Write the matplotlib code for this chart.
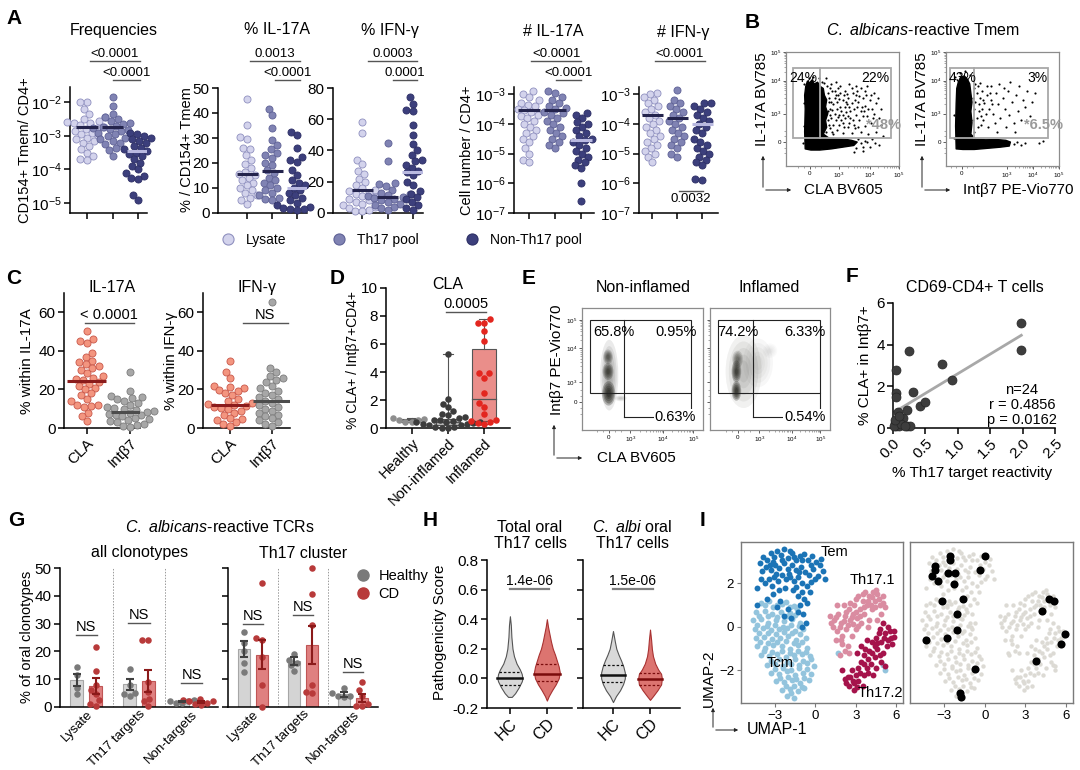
"""Multi-panel figure: C. albicans-reactive T cells (panels A-I)."""

import matplotlib
matplotlib.use("Agg")
import matplotlib.pyplot as plt
import numpy as np
from matplotlib.lines import Line2D
from matplotlib.patches import Polygon, Rectangle, Ellipse, FancyArrowPatch

plt.rcParams["font.family"] = ["Liberation Sans", "DejaVu Sans"]
plt.rcParams["mathtext.fontset"] = "custom"
plt.rcParams["mathtext.rm"] = "Liberation Sans"
plt.rcParams["mathtext.it"] = "Liberation Sans:italic"
plt.rcParams["axes.linewidth"] = 1.1

W, H = 1080, 770

# ---------------- data: panel A (log10 values for log panels) ----------------
freq_lysate = [-2.0, -2.0, -2.2, -2.35, -2.45, -2.5, -2.55, -2.58, -2.6, -2.62, -2.68, -2.72,
               -2.75, -2.8, -2.85, -2.9, -2.95, -3.0, -3.05, -3.1, -3.15, -3.2, -3.3, -3.4,
               -3.5, -3.6, -3.7, -3.72]
freq_th17 = [-1.85, -2.1, -2.35, -2.45, -2.5, -2.55, -2.6, -2.65, -2.7, -2.72, -2.75, -2.8,
             -2.82, -2.85, -2.9, -2.95, -3.0, -3.05, -3.1, -3.15, -3.2, -3.25, -3.35, -3.42, -3.6]
freq_non = [-2.9, -2.95, -3.0, -3.05, -3.1, -3.15, -3.2, -3.3, -3.35, -3.4, -3.45, -3.5, -3.55,
            -3.6, -3.7, -3.8, -3.9, -4.0, -4.1, -4.2, -4.25, -4.3, -4.75, -4.9]
freq_medians = [-2.72, -2.74, -3.45]

il17_lysate = [45.5, 35, 30.5, 29.5, 26, 25.5, 23, 21, 19.5, 18, 16.5, 15.5, 15, 14, 13, 12,
               11, 10, 9, 8, 7, 6, 5, 3.5]
il17_th17 = [41.5, 39, 34, 29, 27, 25.5, 24, 23, 22, 20, 19, 17, 16, 14, 13, 12, 11, 10, 9, 8,
             7, 6, 5.5, 5]
il17_non = [32.5, 31, 26, 22.5, 21, 20.5, 17, 15, 13, 12, 11, 10, 9, 8, 7, 6, 5, 4, 3, 2.5, 2,
            1.5, 1.5, 1]
il17_medians = [15.5, 16.8, 10.0]

ifn_lysate = [58, 51, 34, 31.5, 27, 25, 22, 20, 18, 16, 15, 14, 13, 12, 11, 10, 9, 8, 7, 6, 5,
              4, 3, 2, 1.5, 1]
ifn_th17 = [45, 33, 19, 18.5, 17, 15, 13, 12, 11.5, 11, 10, 9.5, 9, 8, 7, 6, 5, 4, 3, 2]
ifn_non = [74, 70, 66, 65.5, 56, 50, 44, 40, 37, 34, 33, 31, 29, 27, 26, 24, 20, 18, 14, 12,
           10, 9, 7, 5, 3, 2]
ifn_medians = [14.5, 10.0, 26.0]

nil17_lysate = [-2.9, -3.0, -3.1, -3.2, -3.3, -3.35, -3.4, -3.5, -3.55, -3.6, -3.7, -3.75,
                -3.8, -3.9, -4.0, -4.1, -4.2, -4.3, -4.4, -4.5, -4.6, -4.8, -5.0, -5.2, -5.3]
nil17_th17 = [-2.9, -2.95, -3.1, -3.2, -3.3, -3.4, -3.45, -3.5, -3.6, -3.65, -3.7, -3.8, -3.9,
              -4.0, -4.1, -4.2, -4.3, -4.4, -4.5, -4.6, -4.7, -4.8]
nil17_non = [-3.65, -3.7, -3.8, -3.95, -4.0, -4.1, -4.2, -4.3, -4.4, -4.5, -4.55, -4.6, -4.7,
             -4.8, -4.9, -5.0, -5.1, -5.2, -5.3, -5.4, -5.5, -6.0, -6.6]
nil17_medians = [-3.55, -3.55, -4.55]

nifn_lysate = [-2.95, -3.0, -3.1, -3.2, -3.3, -3.4, -3.5, -3.6, -3.7, -3.8, -3.9, -4.0, -4.1,
               -4.2, -4.3, -4.4, -4.5, -4.6, -4.7, -4.8, -4.9, -5.0, -5.1, -5.3]
nifn_th17 = [-2.85, -3.2, -3.3, -3.4, -3.5, -3.6, -3.7, -3.8, -3.9, -4.0, -4.1, -4.2, -4.3,
             -4.4, -4.5, -4.6, -4.7, -4.8, -5.0, -5.1]
nifn_non = [-3.3, -3.3, -3.4, -3.5, -3.6, -3.7, -3.8, -3.9, -4.0, -4.1, -4.2, -4.3, -4.5, -4.6,
            -4.7, -4.8, -4.9, -5.0, -5.1, -5.2, -5.3, -5.4, -5.85, -5.9]
nifn_medians = [-3.7, -3.8, -4.0]

a_groups = ["Lysate", "Th17 pool", "Non-Th17 pool"]

# ---------------- panel B (flow, axes fractions) ----------------
b1_blob = [(0.17, 0.15), (0.165, 0.30), (0.17, 0.50), (0.165, 0.62), (0.175, 0.70),
           (0.19, 0.745), (0.21, 0.73), (0.23, 0.755), (0.25, 0.72), (0.28, 0.735), (0.30, 0.70),
           (0.33, 0.68), (0.34, 0.62), (0.36, 0.58), (0.35, 0.52), (0.37, 0.46), (0.35, 0.40),
           (0.36, 0.34), (0.33, 0.28), (0.38, 0.245), (0.45, 0.24), (0.52, 0.235), (0.58, 0.225),
           (0.63, 0.21), (0.60, 0.18), (0.50, 0.165), (0.40, 0.15), (0.30, 0.14), (0.22, 0.14)]
b1_dots = [(0.46, 0.62), (0.50, 0.58), (0.48, 0.52), (0.52, 0.66), (0.55, 0.60), (0.58, 0.55),
           (0.47, 0.45), (0.53, 0.47), (0.57, 0.42), (0.60, 0.50), (0.62, 0.62), (0.64, 0.56),
           (0.66, 0.48), (0.68, 0.60), (0.70, 0.53), (0.72, 0.44), (0.74, 0.58), (0.76, 0.50),
           (0.78, 0.64), (0.80, 0.55), (0.50, 0.38), (0.55, 0.34), (0.60, 0.36), (0.65, 0.40),
           (0.70, 0.35), (0.75, 0.38), (0.45, 0.32), (0.50, 0.29), (0.58, 0.29), (0.66, 0.30),
           (0.73, 0.28), (0.82, 0.42), (0.84, 0.36), (0.62, 0.70), (0.56, 0.72), (0.48, 0.70),
           (0.44, 0.74), (0.40, 0.72), (0.66, 0.68), (0.72, 0.70), (0.54, 0.54), (0.49, 0.48),
           (0.45, 0.56), (0.62, 0.45), (0.68, 0.44), (0.59, 0.64), (0.52, 0.42), (0.43, 0.66),
           (0.78, 0.46), (0.64, 0.34), (0.71, 0.62), (0.57, 0.48), (0.47, 0.36), (0.80, 0.30),
           (0.76, 0.24), (0.79, 0.20), (0.74, 0.17), (0.82, 0.18), (0.68, 0.13), (0.60, 0.12),
           (0.38, 0.60), (0.39, 0.50), (0.40, 0.42), (0.38, 0.36), (0.41, 0.66), (0.42, 0.54),
           (0.43, 0.46), (0.44, 0.40), (0.41, 0.30), (0.39, 0.68), (0.45, 0.50), (0.46, 0.68),
           (0.51, 0.62), (0.53, 0.56), (0.49, 0.40), (0.43, 0.60), (0.37, 0.48), (0.40, 0.56),
           (0.51, 0.34), (0.56, 0.38), (0.61, 0.58), (0.67, 0.52), (0.58, 0.68), (0.63, 0.66),
           (0.37, 0.64), (0.38, 0.56), (0.39, 0.45), (0.37, 0.40), (0.39, 0.33), (0.36, 0.70),
           (0.34, 0.73), (0.32, 0.74), (0.35, 0.30), (0.42, 0.28), (0.44, 0.62), (0.41, 0.49),
           (0.42, 0.36), (0.46, 0.43), (0.47, 0.59), (0.48, 0.64), (0.50, 0.45), (0.52, 0.52),
           (0.54, 0.63), (0.55, 0.44), (0.56, 0.52), (0.59, 0.40), (0.61, 0.33), (0.63, 0.52),
           (0.65, 0.61), (0.69, 0.48), (0.70, 0.66), (0.73, 0.50), (0.75, 0.62), (0.77, 0.42),
           (0.66, 0.20), (0.70, 0.22), (0.64, 0.24), (0.68, 0.17), (0.72, 0.21), (0.62, 0.16),
           (0.86, 0.26), (0.84, 0.50), (0.81, 0.60), (0.36, 0.22), (0.35, 0.77), (0.29, 0.77),
           (0.24, 0.78), (0.20, 0.77), (0.16, 0.72), (0.155, 0.55), (0.155, 0.35), (0.15, 0.20)]
b2_blob = [(0.09, 0.15), (0.085, 0.35), (0.09, 0.55), (0.095, 0.68), (0.11, 0.74), (0.13, 0.78),
           (0.16, 0.79), (0.19, 0.76), (0.21, 0.72), (0.22, 0.64), (0.23, 0.56), (0.22, 0.48),
           (0.23, 0.38), (0.22, 0.28), (0.26, 0.235), (0.35, 0.23), (0.45, 0.232), (0.53, 0.225),
           (0.57, 0.21), (0.56, 0.175), (0.48, 0.165), (0.40, 0.158), (0.25, 0.145), (0.15, 0.145)]
b2_dots = [(0.28, 0.70), (0.32, 0.66), (0.30, 0.60), (0.36, 0.62), (0.34, 0.55), (0.40, 0.58),
           (0.38, 0.50), (0.44, 0.64), (0.42, 0.46), (0.46, 0.54), (0.50, 0.60), (0.48, 0.42),
           (0.52, 0.50), (0.55, 0.66), (0.56, 0.45), (0.58, 0.56), (0.60, 0.38), (0.62, 0.62),
           (0.64, 0.48), (0.66, 0.40), (0.68, 0.58), (0.70, 0.52), (0.72, 0.66), (0.74, 0.44),
           (0.76, 0.56), (0.33, 0.40), (0.37, 0.34), (0.45, 0.30), (0.53, 0.34), (0.61, 0.30),
           (0.29, 0.48), (0.31, 0.36), (0.40, 0.70), (0.47, 0.72), (0.26, 0.56), (0.27, 0.42),
           (0.35, 0.46), (0.43, 0.38), (0.51, 0.68), (0.57, 0.74), (0.65, 0.70), (0.79, 0.64),
           (0.82, 0.20), (0.86, 0.22), (0.27, 0.64), (0.29, 0.54), (0.31, 0.44), (0.28, 0.34),
           (0.25, 0.68), (0.24, 0.60), (0.25, 0.50), (0.24, 0.40), (0.25, 0.30), (0.26, 0.72),
           (0.30, 0.73), (0.33, 0.58), (0.32, 0.50), (0.36, 0.70), (0.39, 0.64), (0.41, 0.54),
           (0.60, 0.19), (0.63, 0.21), (0.66, 0.18), (0.70, 0.20), (0.08, 0.78), (0.12, 0.82),
           (0.17, 0.83), (0.21, 0.80), (0.075, 0.45), (0.075, 0.25)]

# ---------------- panel C ----------------
c_il17_cla = [50.5, 46, 45, 44, 39, 37, 35, 34, 33, 32, 31, 30, 28.5, 27, 26, 25.5, 25, 24, 23,
              22, 21, 20, 18, 17, 15, 14, 12, 12, 11.5, 11, 8, 6, 3.5]
c_il17_itb7 = [29, 19, 16.5, 16, 15.5, 15, 14, 13, 12, 11, 10.5, 10, 9.5, 9, 8.5, 8, 7.5, 7,
               6.5, 6, 5, 4.5, 4, 3.5, 3, 2, 1.5, 1, 0.5]
c_ifn_cla = [35, 29, 26, 22, 21.5, 20.5, 19.5, 19, 18, 17, 15, 14, 13, 12.5, 12, 11.5, 11, 10.5,
             10, 9, 8, 7, 5, 4.5, 4, 3, 2, 1]
c_ifn_itb7 = [65.5, 31, 29, 27, 26, 25, 24, 22, 20.5, 19, 18, 17, 16, 15, 14, 13, 12, 11, 10, 9,
              8, 7, 6, 5, 4, 3, 2, 1]
c_il17_medians = [24.5, 8.5]
c_ifn_medians = [12.0, 14.0]

# ---------------- panel D ----------------
d_groups = ["Healthy", "Non-inflamed", "Inflamed"]
d_healthy = [0.70, 0.65, 0.60, 0.55, 0.45, 0.40]
d_noninfl = [5.25, 2.05, 1.75, 1.50, 1.20, 1.00, 0.90, 0.80, 0.70, 0.60, 0.55, 0.50, 0.45, 0.40,
             0.35, 0.30, 0.25, 0.20, 0.10, 0.05, 0.00, 0.00, 0.30, 0.40]
d_infl = [7.75, 7.50, 7.50, 6.90, 6.20, 3.90, 3.90, 3.60, 2.50, 1.80, 1.50, 1.00, 0.60, 0.50,
          0.40, 0.35, 0.30]
d_q1 = [0.45, 0.22, 0.50]
d_med = [0.55, 0.42, 2.10]
d_q3 = [0.62, 0.62, 5.65]
d_lo = [0.40, 0.00, 0.30]
d_hi = [0.70, 5.25, 7.75]

# ---------------- panel E (density blobs: cx, cy, w, h, weight) ----------------
e1_blobs = [(0.225, 0.45, 0.15, 0.58, 0.5), (0.22, 0.30, 0.11, 0.20, 1.6),
            (0.215, 0.48, 0.09, 0.14, 1.2), (0.215, 0.60, 0.08, 0.12, 1.0),
            (0.32, 0.26, 0.10, 0.05, 0.3)]
e2_blobs = [(0.28, 0.48, 0.30, 0.60, 0.35), (0.40, 0.55, 0.25, 0.40, 0.18),
            (0.50, 0.65, 0.12, 0.12, 0.12), (0.22, 0.32, 0.08, 0.16, 1.6),
            (0.22, 0.48, 0.08, 0.18, 1.4), (0.23, 0.58, 0.09, 0.14, 0.8)]

# ---------------- panel F ----------------
f_x = [0.04, 0.05, 0.04, 0.07, 0.03, 0.04, 0.10, 0.15, 0.21, 0.21, 0.26, 0.24, 0.31, 0.42, 0.50,
       0.75, 0.91, 1.97, 1.98, 0.01, 0.12, 0.03, 0.09, 0.19]
f_y = [2.80, 1.68, 1.47, 0.75, 0.24, 0.08, 0.08, 0.50, 0.85, 0.08, 0.08, 3.71, 1.73, 1.07, 1.25,
       3.06, 2.32, 5.04, 3.73, 0.08, 0.19, 0.40, 0.56, 0.08]
f_fit_x = [0.03, 1.98]
f_fit_y = [0.78, 4.45]

# ---------------- panel G ----------------
g_cats = ["Lysate", "Th17 targets", "Non-targets"]
g_all_h_mean = [9.8, 8.1, 2.0]
g_all_h_sem = [2.2, 2.0, 0.3]
g_all_cd_mean = [7.6, 9.4, 1.8]
g_all_cd_sem = [2.8, 4.0, 0.4]
g_th_h_mean = [20.8, 16.5, 4.5]
g_th_h_sem = [2.8, 1.5, 1.0]
g_th_cd_mean = [18.8, 22.3, 3.2]
g_th_cd_sem = [5.3, 6.8, 1.4]
g_all_h_pts = [[14.5, 11.5, 7.0, 4.5], [13.5, 8.0, 5.0, 4.5, 3.8], [2.5, 2.2, 2.0, 1.5, 1.5]]
g_all_cd_pts = [[21.5, 13.0, 8.0, 6.0, 4.5, 2.5, 1.0, 0.5], [24.0, 24.0, 9.0, 5.5, 3.0, 2.0, 0.5],
                [3.0, 2.5, 2.2, 2.0, 1.5, 1.0, 0.8]]
g_th_h_pts = [[27.0, 23.0, 20.0, 16.0, 12.5], [19.0, 17.0, 16.0, 15.0, 13.0],
              [7.0, 5.0, 4.0, 4.0, 3.5]]
g_th_cd_pts = [[44.5, 25.0, 24.0, 18.0, 8.0, 0.0], [50.0, 40.5, 29.5, 8.0, 5.5, 5.0],
               [9.0, 6.0, 4.0, 1.0, 0.5, 0.3]]

# ---------------- panel H (violin half-widths in x-data units) ----------------
h_tot_hc_y = [-0.125, -0.10, -0.06, -0.02, 0.0, 0.03, 0.06, 0.10, 0.15, 0.20, 0.28, 0.36, 0.42]
h_tot_hc_w = [0.05, 0.14, 0.24, 0.32, 0.34, 0.32, 0.27, 0.18, 0.11, 0.07, 0.04, 0.025, 0.0]
h_tot_cd_y = [-0.15, -0.12, -0.08, -0.04, 0.0, 0.04, 0.08, 0.12, 0.16, 0.20, 0.25, 0.30, 0.35, 0.40]
h_tot_cd_w = [0.0, 0.05, 0.14, 0.24, 0.32, 0.35, 0.32, 0.27, 0.22, 0.16, 0.11, 0.07, 0.03, 0.0]
h_alb_hc_y = [-0.16, -0.12, -0.08, -0.04, 0.0, 0.04, 0.08, 0.12, 0.16, 0.20, 0.25, 0.32]
h_alb_hc_w = [0.0, 0.08, 0.19, 0.27, 0.32, 0.32, 0.28, 0.22, 0.15, 0.09, 0.05, 0.0]
h_alb_cd_y = [-0.145, -0.12, -0.08, -0.04, 0.0, 0.03, 0.06, 0.10, 0.15, 0.20, 0.26, 0.33]
h_alb_cd_w = [0.0, 0.08, 0.20, 0.30, 0.32, 0.30, 0.22, 0.14, 0.08, 0.05, 0.03, 0.0]
h_tot_quart = [(-0.045, 0.0, 0.045), (-0.02, 0.03, 0.10)]
h_alb_quart = [(-0.025, 0.025, 0.09), (-0.045, -0.005, 0.035)]

# ---------------- panel I (UMAP coordinates) ----------------
umap_tem = [(-4.1, 2.95), (-3.85, 3.2), (-3.55, 3.05), (-3.3, 3.4), (-3.05, 3.2), (-2.8, 3.5),
            (-2.55, 3.3), (-2.3, 3.6), (-2.05, 3.15), (-1.75, 3.4), (-1.45, 3.05), (-1.15, 3.25),
            (-0.85, 3.35), (-0.55, 3.05), (-0.25, 3.25), (0.05, 3.0), (0.35, 2.85), (0.55, 2.55),
            (0.7, 2.2), (-3.95, 2.55), (-3.65, 2.75), (-3.25, 2.6), (-2.95, 2.85), (-2.65, 2.7),
            (-2.35, 2.95), (-2.05, 2.65), (-1.75, 2.85), (-1.45, 2.6), (-1.05, 2.75), (-0.75, 2.5),
            (-0.45, 2.4), (-0.15, 2.65), (0.2, 2.35), (-3.45, 2.2), (-3.05, 2.3), (-2.75, 2.1),
            (-2.45, 2.4), (-2.15, 2.2), (-1.85, 2.3), (-1.55, 2.1), (-1.25, 2.3), (-0.95, 2.0),
            (-0.6, 1.9), (-3.75, 2.0), (-4.35, 1.8), (-2.25, 1.8), (-1.65, 1.7), (-1.0, 1.6),
            (-0.8, 1.3), (-1.3, 1.4), (-0.6, 1.1), (-1.1, 1.0), (-0.9, 0.6), (-1.3, 0.7),
            (-0.7, 0.2), (-1.0, 0.0), (-2.0, 0.8), (-2.6, 1.2), (-3.1, 1.5), (-3.6, 1.3),
            (-4.3, 1.0), (-1.8, 0.4), (-2.3, 0.5), (-2.8, 0.9), (0.4, 3.1), (-1.9, 3.5),
            (-3.1, 3.0), (-3.35, 2.85), (-2.5, 3.05), (-1.6, 3.2), (-0.95, 3.05), (-0.35, 2.85),
            (0.0, 2.2), (-2.9, 2.45), (-1.95, 2.45), (-1.2, 2.5), (-0.3, 2.05), (-3.2, 1.9),
            (-2.7, 1.7), (-1.4, 1.85), (-0.4, 1.6), (-4.0, 2.2)]
umap_tcm = [(-4.0, 1.1), (-3.4, 1.2), (-2.8, 1.0), (-2.2, 1.15), (-1.6, 0.95), (-4.4, 0.7),
            (-3.75, 0.75), (-3.2, 0.6), (-2.55, 0.7), (-1.9, 0.65), (-1.35, 0.8), (-4.6, 0.3),
            (-4.05, 0.35), (-3.5, 0.2), (-2.9, 0.3), (-2.3, 0.25), (-1.7, 0.35), (-1.1, 0.2),
            (-4.5, -0.1), (-3.9, -0.05), (-3.3, -0.15), (-2.7, -0.1), (-2.1, -0.05), (-1.5, -0.2),
            (-0.9, -0.1), (-4.4, -0.5), (-3.8, -0.45), (-3.2, -0.55), (-2.6, -0.5), (-2.0, -0.4),
            (-1.4, -0.6), (-0.7, -0.5), (-4.3, -0.9), (-3.7, -0.95), (-3.1, -0.85), (-2.5, -0.9),
            (-1.9, -1.0), (-1.3, -0.85), (-0.6, -0.95), (-4.0, -1.3), (-3.4, -1.35), (-2.8, -1.25),
            (-2.2, -1.4), (-1.6, -1.3), (-1.0, -1.25), (-0.4, -1.35), (-3.6, -1.75), (-3.0, -1.7),
            (-2.4, -1.8), (-1.8, -1.7), (-1.2, -1.75), (-0.6, -1.65), (-0.1, -1.8), (-3.3, -2.1),
            (-2.7, -2.15), (-2.1, -2.05), (-1.5, -2.2), (-0.9, -2.1), (-0.3, -2.15), (-2.9, -2.5),
            (-2.3, -2.55), (-1.7, -2.45), (-1.1, -2.6), (-0.5, -2.45), (-2.5, -2.9), (-1.9, -2.85),
            (-1.3, -2.95), (-0.8, -2.8), (-2.1, -3.2), (-1.6, -3.25), (-3.7, 1.0), (-3.1, 0.9),
            (-2.5, 1.05), (-1.9, 0.9), (-4.2, 0.5), (-3.5, 0.5), (-2.8, 0.45), (-2.1, 0.5),
            (-1.5, 0.55), (-4.3, 0.1), (-3.6, 0.05), (-3.0, 0.1), (-2.4, 0.0), (-1.8, 0.1),
            (-1.2, 0.05), (-4.2, -0.3), (-3.5, -0.3), (-2.9, -0.35), (-2.3, -0.25), (-1.7, -0.3),
            (-1.1, -0.35), (-4.1, -0.7), (-3.5, -0.75), (-2.8, -0.7), (-2.2, -0.65), (-1.6, -0.75),
            (-1.0, -0.7), (-3.8, -1.1), (-3.2, -1.15), (-2.5, -1.1), (-1.9, -1.2), (-1.3, -1.1),
            (-0.7, -1.15), (-3.3, -1.55), (-2.7, -1.5), (-2.1, -1.6), (-1.5, -1.5), (-0.9, -1.55),
            (-0.3, -1.5), (-3.0, -1.95), (-2.4, -1.9), (-1.8, -2.0), (-1.2, -1.9), (-0.6, -1.95),
            (-2.6, -2.35), (-2.0, -2.3), (-1.4, -2.4), (-0.8, -2.35), (-2.2, -2.7), (-1.6, -2.7),
            (-1.0, -2.75), (-1.8, -3.05), (5.2, -2.0), (5.0, -1.75), (1.7, -1.2)]
umap_th171 = [(1.1, 0.5), (1.4, 0.3), (1.7, 0.6), (1.3, 0.0), (1.6, -0.2), (1.9, 0.2), (2.2, 0.5),
              (2.0, -0.4), (2.3, -0.1), (2.6, 0.3), (2.5, 0.8), (2.8, 0.6), (2.9, 1.0), (3.1, 0.4),
              (3.3, 0.8), (3.5, 1.2), (3.2, 1.4), (3.6, 0.6), (3.8, 1.0), (4.0, 1.4), (4.2, 0.8),
              (4.4, 1.2), (4.6, 1.5), (4.8, 1.0), (5.0, 1.4), (4.9, 0.6), (4.3, 1.6), (3.7, 1.6),
              (2.7, -0.4), (2.4, -0.9), (2.0, -0.8), (1.8, -1.3), (1.5, -0.6), (3.0, -0.1),
              (3.4, 0.2), (4.0, 0.3), (2.1, 1.0), (1.6, 1.0), (3.0, 1.3), (4.6, 0.3), (5.2, 0.9),
              (3.9, 0.0), (2.5, -1.2), (1.2, 0.2), (1.5, 0.45), (1.8, 0.0), (2.1, 0.25), (2.4, 0.1),
              (2.7, 0.45), (3.0, 0.7), (3.3, 0.5), (3.6, 0.9), (3.9, 1.2), (4.1, 1.0), (4.4, 0.9),
              (4.7, 1.3), (5.0, 1.1), (3.5, 1.5), (2.3, 0.7), (2.6, 1.1), (4.5, 1.7), (4.2, 1.35),
              (1.9, -0.6), (2.2, -1.1), (3.2, 0.05), (2.8, 0.15)]
umap_th172 = [(5.0, 0.2), (5.4, 0.0), (5.8, -0.2), (5.6, -0.5), (5.2, -0.3), (4.8, -0.1),
              (4.5, -0.5), (4.9, -0.7), (5.3, -0.9), (5.7, -0.8), (4.2, -0.7), (4.6, -1.0),
              (5.0, -1.2), (4.0, -1.1), (4.4, -1.4), (3.8, -0.6), (3.6, -1.3), (4.1, -1.7),
              (3.4, -1.6), (3.8, -1.9), (3.2, -1.9), (3.6, -2.2), (3.0, -2.2), (2.7, -2.0),
              (2.4, -2.3), (2.8, -2.5), (3.2, -2.5), (2.5, -2.7), (2.9, -2.9), (2.2, -2.4),
              (3.5, -2.7), (4.5, -1.9), (4.9, -1.6), (5.2, -1.8), (3.1, -1.2), (3.4, -0.9),
              (4.3, -2.2), (2.0, -2.0), (5.5, -0.2), (5.1, -0.5), (4.7, -0.3), (4.4, -0.9),
              (4.8, -1.3), (5.4, -0.6), (4.2, -1.2), (3.9, -1.5), (3.6, -1.7), (3.3, -2.1),
              (2.9, -2.6), (2.6, -2.3), (3.1, -2.75), (3.9, -2.1), (4.6, -0.75), (5.8, -0.45),
              (2.3, -2.6), (3.7, -1.0)]
umap_calb = [(-2.54, 3.24), (-2.59, 3.06), (0.02, 3.24), (-3.67, 2.78), (-3.67, 2.63),
             (-3.91, 2.35), (-3.43, 2.12), (-2.73, 2.47), (-2.16, 2.47), (-2.25, 1.98),
             (-0.34, 2.6), (-3.12, 1.2), (-1.63, 1.27), (-2.01, 0.57), (-2.06, -0.14),
             (-2.78, -0.49), (-4.34, -0.6), (-0.74, -1.92), (-1.82, -3.03), (-1.73, -3.21),
             (4.7, 1.27), (5.08, 1.17), (4.22, 0.75), (5.92, -0.32), (5.61, -0.78), (3.81, -1.55)]

# ------------------------------------------------------------------ helpers
fig = plt.figure(figsize=(W / 100, H / 100), dpi=100)


def add_ax(left, top, right, bottom):
    return fig.add_axes([left / W, 1 - bottom / H, (right - left) / W, (bottom - top) / H])


def ftext(x, y, s, **kw):
    kw.setdefault("ha", "center")
    kw.setdefault("va", "center")
    fig.text(x / W, 1 - y / H, s, **kw)


def farrow(x0, y0, x1, y1):
    fig.add_artist(FancyArrowPatch((x0 / W, 1 - y0 / H), (x1 / W, 1 - y1 / H),
                                   transform=fig.transFigure, arrowstyle="-|>",
                                   mutation_scale=5, lw=0.7, color="#222"))


def letter(x, y, s):
    ftext(x, y, s, fontsize=15, fontweight="bold", ha="left")


def ypx_frac(ax, ypx):
    pos = ax.get_position()
    return ((1 - ypx / H) - pos.y0) / pos.height


def bracket(ax, x0, x1, ypx, label, fs=9.5, color="#555", lw=1.0, below=False):
    yf = ypx_frac(ax, ypx)
    tr = ax.get_xaxis_transform()
    ax.plot([x0, x1], [yf, yf], transform=tr, color=color, lw=lw, clip_on=False)
    if below:
        ax.text((x0 + x1) / 2, yf - 0.015, label, transform=tr, ha="center", va="top",
                fontsize=fs, clip_on=False)
    else:
        ax.text((x0 + x1) / 2, yf + 0.005, label, transform=tr, ha="center", va="bottom",
                fontsize=fs, clip_on=False)


def prism(ax, labelsize=10.5):
    for s in ("top", "right"):
        ax.spines[s].set_visible(False)
    ax.tick_params(direction="out", length=4, width=1.1, labelsize=labelsize, pad=2)


def swarm_offsets(ax, xc, yvals, diam):
    pts = ax.transData.transform(np.column_stack([np.full(len(yvals), float(xc)), yvals]))
    ypx = pts[:, 1]
    ppu = ax.transData.transform((xc + 1, 1))[0] - ax.transData.transform((xc, 1))[0]
    placed = []
    offs = np.zeros(len(yvals))
    for i in np.argsort(ypx):
        y = ypx[i]
        cands = [0.0]
        blocks = []
        for px, py in placed:
            dy = abs(py - y)
            if dy < diam:
                dx = np.sqrt(diam ** 2 - dy ** 2)
                blocks.append((px - dx, px + dx))
                cands += [px - dx, px + dx]
        best = 0.0
        for c in sorted(cands, key=abs):
            if all(not (lo + 1e-6 < c < hi - 1e-6) for lo, hi in blocks):
                best = c
                break
        offs[i] = best
        placed.append((best, y))
    return offs / ppu


def dot_column(ax, groups, medians, face, edge, medc, log=False, diam=7.0, s=26,
               lw=0.6, half=0.42, xs=None):
    for i, vals in enumerate(groups):
        x0 = i if xs is None else xs[i]
        yv = 10 ** np.asarray(vals, float) if log else np.asarray(vals, float)
        xo = swarm_offsets(ax, x0, yv, diam)
        ax.scatter(x0 + xo, yv, s=s, facecolor=face[i], edgecolor=edge[i], linewidth=lw,
                   zorder=3, clip_on=False)
        if medians is not None:
            m = 10 ** medians[i] if log else medians[i]
            ax.plot([x0 - half, x0 + half], [m, m], color=medc[i], lw=2.2, zorder=4,
                    solid_capstyle="butt")


def log_axis(ax, lo, hi, decades):
    ax.set_yscale("log")
    ax.set_ylim(10 ** lo, 10 ** hi)
    ax.set_yticks([10.0 ** d for d in decades])
    ax.set_yticklabels([r"$10^{%d}$" % d for d in decades])
    ax.minorticks_off()


# ------------------------------------------------------------------ panel A
a_face = ["#d3d3ec", "#8083b3", "#3c3f7c"]
a_edge = ["#8f90bf", "#5f6296", "#2e3066"]
a_med = ["#24244d", "#24244d", "#b9b9e0"]

letter(6, 18, "A")
axA1 = add_ax(70, 87, 147, 213)
axA2 = add_ax(218, 88, 307, 213)
axA3 = add_ax(333, 88, 423, 213)
axA4 = add_ax(514, 87, 594, 213)
axA5 = add_ax(639, 87, 718, 213)

axA1.set_xlim(-0.67, 2.35)
log_axis(axA1, -5.3, -1.54, [-5, -4, -3, -2])
axA2.set_xlim(-1.16, 2.4)
axA2.set_ylim(0, 50)
axA2.set_yticks([0, 10, 20, 30, 40, 50])
axA3.set_xlim(-1.16, 2.4)
axA3.set_ylim(0, 80)
axA3.set_yticks([0, 20, 40, 60, 80])
axA4.set_xlim(-0.58, 2.5)
log_axis(axA4, -7, -2.76, [-7, -6, -5, -4, -3])
axA5.set_xlim(-0.52, 2.64)
log_axis(axA5, -7, -2.76, [-7, -6, -5, -4, -3])

for ax in (axA1, axA2, axA3, axA4, axA5):
    prism(ax, 11)
    ax.set_xticks([0, 1, 2])
    ax.set_xticklabels([])

dot_column(axA1, [freq_lysate, freq_th17, freq_non], freq_medians, a_face, a_edge, a_med, log=True)
dot_column(axA2, [il17_lysate, il17_th17, il17_non], il17_medians, a_face, a_edge, a_med)
dot_column(axA3, [ifn_lysate, ifn_th17, ifn_non], ifn_medians, a_face, a_edge, a_med)
dot_column(axA4, [nil17_lysate, nil17_th17, nil17_non], nil17_medians, a_face, a_edge, a_med, log=True)
dot_column(axA5, [nifn_lysate, nifn_th17, nifn_non], nifn_medians, a_face, a_edge, a_med, log=True)

ftext(114, 30, "Frequencies", fontsize=11.5)
ftext(277, 30, "% IL-17A", fontsize=11.5)
ftext(390, 30, "% IFN-γ", fontsize=11.5)
ftext(553, 32, "# IL-17A", fontsize=11.5)
ftext(683, 32, "# IFN-γ", fontsize=11.5)
ftext(25, 150, "CD154+ Tmem/ CD4+", rotation=90, fontsize=10.5)
ftext(187, 150, "% / CD154+ Tmem", rotation=90, fontsize=10.5)
ftext(467, 150, "Cell number / CD4+", rotation=90, fontsize=10.5)

bracket(axA1, 0.1, 2.08, 61, "<0.0001")
bracket(axA1, 1.02, 2.08, 80, "<0.0001")
bracket(axA2, 0.12, 2.12, 61, "0.0013")
bracket(axA2, 1.12, 2.12, 80, "<0.0001")
bracket(axA3, 0.24, 2.16, 61, "0.0003")
bracket(axA3, 1.2, 2.16, 80, "0.0001")
bracket(axA4, 0.08, 2.0, 61, "<0.0001")
bracket(axA4, 1.04, 2.0, 80, "<0.0001")
bracket(axA5, 0.12, 2.12, 61, "<0.0001")
bracket(axA5, 1.08, 2.04, 191, "0.0032", below=True)

a_handles = [Line2D([], [], ls="", marker="o", markersize=8, markerfacecolor=a_face[i],
                    markeredgecolor=a_edge[i], markeredgewidth=0.8) for i in range(3)]
fig.legend(a_handles, a_groups, loc="center", bbox_to_anchor=(398 / W, 1 - 240 / H), ncol=3,
           frameon=False, fontsize=10, handletextpad=0.3, columnspacing=2.8)

# ------------------------------------------------------------------ panel B
def flow_axes(ax, xt, yt, ylabels=True, fs=4.5):
    ax.set_xlim(0, 1)
    ax.set_ylim(0, 1)
    for s in ax.spines.values():
        s.set_color("#8c8c8c")
        s.set_linewidth(0.9)
    ax.set_xticks(xt)
    ax.set_yticks(yt)
    labs = ["0", r"$10^3$", r"$10^4$", r"$10^5$"]
    ax.set_xticklabels(labs, fontsize=fs)
    ax.set_yticklabels(labs if ylabels else [], fontsize=fs)
    minors_x = [xt[0] - 0.1, xt[0] - 0.05, xt[0] + 0.05, xt[0] + 0.1]
    minors_y = [yt[0] - 0.1, yt[0] - 0.05, yt[0] + 0.05, yt[0] + 0.1]
    for a, b in zip(xt[1:-1], xt[2:]):
        minors_x += [a + (b - a) * np.log10(k) for k in range(2, 10)]
    for a, b in zip(yt[1:-1], yt[2:]):
        minors_y += [a + (b - a) * np.log10(k) for k in range(2, 10)]
    ax.set_xticks(minors_x, minor=True)
    ax.set_yticks(minors_y, minor=True)
    ax.tick_params(which="major", length=2.5, width=0.6, pad=1, color="#444")
    ax.tick_params(which="minor", length=1.3, width=0.4, color="#666")


letter(745, 22, "B")
ftext(923, 30, r"$\mathit{C.\ albicans}$-reactive Tmem", fontsize=11.5)
axB1 = add_ax(786, 52, 899, 166)
axB2 = add_ax(946, 52, 1059, 166)
flow_axes(axB1, [0.21, 0.47, 0.74, 1.0], [0.21, 0.46, 0.75, 1.0])
flow_axes(axB2, [0.14, 0.54, 0.77, 1.0], [0.21, 0.46, 0.75, 1.0])

for ax, blob, dots in ((axB1, b1_blob, b1_dots), (axB2, b2_blob, b2_dots)):
    ax.add_patch(Polygon(blob, closed=True, facecolor="black", edgecolor="black", lw=1.0,
                         joinstyle="round"))
    dx, dy = zip(*dots)
    ax.scatter(dx, dy, s=2.4, color="black", lw=0)

axB1.add_patch(Rectangle((0.06, 0.25), 0.87, 0.61, fill=False, ec="#a8a8a8", lw=1.3))
axB1.plot([0.30, 0.30], [0.25, 0.86], color="#a8a8a8", lw=1.3)
axB2.add_patch(Rectangle((0.035, 0.25), 0.865, 0.61, fill=False, ec="#a8a8a8", lw=1.3))
axB2.plot([0.25, 0.25], [0.25, 0.86], color="#a8a8a8", lw=1.3)
axB1.text(0.15, 0.77, "24%", fontsize=10, ha="center", va="center")
axB1.text(0.79, 0.77, "22%", fontsize=10, ha="center", va="center")
axB1.text(0.86, 0.36, "*48%", fontsize=10.5, ha="center", va="center", color="#9a9a9a",
          fontweight="bold")
axB2.text(0.15, 0.77, "43%", fontsize=10, ha="center", va="center")
axB2.text(0.81, 0.77, "3%", fontsize=10, ha="center", va="center")
axB2.text(0.86, 0.36, "*6.5%", fontsize=10.5, ha="center", va="center", color="#9a9a9a",
          fontweight="bold")

ftext(762, 99, "IL-17A BV785", rotation=90, fontsize=11)
ftext(922, 99, "IL-17A BV785", rotation=90, fontsize=11)
for x0 in (763, 922):
    farrow(x0, 190, x0, 153)
    farrow(x0, 190, x0 + 31, 190)
ftext(804, 190, "CLA BV605", ha="left", fontsize=11)
ftext(963, 190, "Intβ7 PE-Vio770", ha="left", fontsize=11)

# ------------------------------------------------------------------ panel C
c_face = ["#f3957f", "#a7a7a7"]
c_edge = ["#c9574a", "#7d7d7d"]
c_med = ["#8b1c1c", "#4d4d4d"]

letter(6, 278, "C")
axC1 = add_ax(64, 293, 140, 428)
axC2 = add_ax(203, 293, 290, 428)
axC1.set_xlim(-0.53, 1.23)
axC2.set_xlim(-0.64, 1.43)
for ax in (axC1, axC2):
    ax.set_ylim(0, 70)
    ax.set_yticks([0, 20, 40, 60])
    prism(ax, 11)
    ax.set_xticks([0, 1])
    ax.set_xticklabels(["CLA", "Intβ7"], rotation=45, ha="right", rotation_mode="anchor",
                       fontsize=11)
dot_column(axC1, [c_il17_cla, c_il17_itb7], c_il17_medians, c_face, c_edge, c_med, half=0.45)
dot_column(axC2, [c_ifn_cla, c_ifn_itb7], c_ifn_medians, c_face, c_edge, c_med, half=0.45)
ftext(112, 287, "IL-17A", fontsize=11.5)
ftext(257, 287, "IFN-γ", fontsize=11.5)
ftext(27, 361, "% within IL-17A", rotation=90, fontsize=11)
ftext(171, 361, "% within IFN-γ", rotation=90, fontsize=11)
bracket(axC1, -0.05, 1.09, 323, "< 0.0001", fs=10.5)
bracket(axC2, 0.31, 1.38, 323, "NS", fs=10.5)

# ------------------------------------------------------------------ panel D
letter(330, 278, "D")
axD = add_ax(386, 288, 510, 428)
axD.set_xlim(-0.72, 2.72)
axD.set_ylim(0, 10)
axD.set_yticks([0, 2, 4, 6, 8, 10])
prism(axD, 11)
axD.set_xticks([0, 1, 2])
axD.set_xticklabels(d_groups, rotation=45, ha="right", rotation_mode="anchor", fontsize=10.5)
d_fill = ["#c8c8c8", "#bdbdbd", "#ea8e8a"]
for i in range(3):
    axD.add_patch(Rectangle((i - 0.33, d_q1[i]), 0.66, d_q3[i] - d_q1[i], facecolor=d_fill[i],
                            edgecolor="#555", lw=0.8, zorder=2))
    axD.plot([i - 0.33, i + 0.33], [d_med[i], d_med[i]], color="#555", lw=0.9, zorder=2)
    axD.plot([i, i], [d_lo[i], d_q1[i]], color="#555", lw=0.8, zorder=2)
    axD.plot([i, i], [d_q3[i], d_hi[i]], color="#555", lw=0.8, zorder=2)
    for v in (d_lo[i], d_hi[i]):
        axD.plot([i - 0.13, i + 0.13], [v, v], color="#555", lw=0.8, zorder=2)
dot_column(axD, [d_healthy, d_noninfl, d_infl], None, ["#8e8e8e", "#3c3c3c", "#e3261f"],
           ["#8e8e8e", "#3c3c3c", "#e3261f"], None, diam=6.5, s=22, lw=0)
ftext(448, 285, "CLA", fontsize=11.5)
ftext(353, 360, "% CLA+ / Intβ7+CD4+", rotation=90, fontsize=10)
bracket(axD, 0.95, 2.05, 312, "0.0005", fs=10.5)

# ------------------------------------------------------------------ panel E
def density(ax, blobs):
    for cx, cy, w, h, p in blobs:
        for k in (1.0, 0.82, 0.64, 0.46, 0.3):
            ax.add_patch(Ellipse((cx, cy), w * k, h * k, facecolor="#16160f",
                                 alpha=min(0.17 * p, 0.6), lw=0))


def e_gates(ax, left, div, right):
    ax.add_patch(Rectangle((left, 0.30), right - left, 0.60, fill=False, ec="#222", lw=0.8))
    ax.plot([div, div], [0.11, 0.90], color="#222", lw=0.8)
    ax.plot([div, right, right], [0.11, 0.11, 0.30], color="#222", lw=0.8)


letter(522, 278, "E")
axE1 = add_ax(582, 308, 703, 430)
axE2 = add_ax(710, 308, 830, 430)
flow_axes(axE1, [0.22, 0.40, 0.67, 0.92], [0.23, 0.39, 0.67, 0.90])
flow_axes(axE2, [0.23, 0.41, 0.68, 0.92], [0.23, 0.39, 0.67, 0.90], ylabels=False)
density(axE1, e1_blobs)
density(axE2, e2_blobs)
e_gates(axE1, 0.07, 0.35, 0.90)
e_gates(axE2, 0.07, 0.36, 0.92)
box = dict(facecolor="white", edgecolor="none", pad=0.5)
axE1.text(0.26, 0.80, "65.8%", fontsize=10.5, ha="center", va="center")
axE1.text(0.78, 0.80, "0.95%", fontsize=10.5, ha="center", va="center")
axE1.text(0.77, 0.11, "0.63%", fontsize=10.5, ha="center", va="center", bbox=box)
axE2.text(0.23, 0.80, "74.2%", fontsize=10.5, ha="center", va="center")
axE2.text(0.79, 0.80, "6.33%", fontsize=10.5, ha="center", va="center")
axE2.text(0.79, 0.11, "0.54%", fontsize=10.5, ha="center", va="center", bbox=box)
ftext(643, 287, "Non-inflamed", fontsize=11.5)
ftext(769, 287, "Inflamed", fontsize=11.5)
ftext(557, 360, "Intβ7 PE-Vio770", rotation=90, fontsize=11)
farrow(554, 458, 554, 422)
farrow(554, 458, 585, 458)
ftext(597, 458, "CLA BV605", ha="left", fontsize=11)

# ------------------------------------------------------------------ panel F
letter(846, 277, "F")
axF = add_ax(893, 303, 1055, 428)
prism(axF, 11)
axF.set_xlim(0, 2.5)
axF.set_ylim(0, 6)
axF.set_yticks([0, 2, 4, 6])
axF.set_xticks([0, 0.5, 1.0, 1.5, 2.0, 2.5])
axF.set_xticklabels(["0.0", "0.5", "1.0", "1.5", "2.0", "2.5"], rotation=45, ha="right",
                    rotation_mode="anchor")
axF.plot(f_fit_x, f_fit_y, color="#a8a8a8", lw=2, zorder=2)
axF.scatter(f_x, f_y, s=42, color="#3d3d3d", edgecolor="#262626", lw=0.5, zorder=3,
            clip_on=False)
ftext(975, 287, "CD69-CD4+ T cells", fontsize=11.5)
ftext(865, 365, "% CLA+ in Intβ7+", rotation=90, fontsize=11)
ftext(972, 473, "% Th17 target reactivity", fontsize=11)
ftext(1022, 405, "n=24\nr = 0.4856\np = 0.0162", fontsize=10.5, linespacing=1.05)

# ------------------------------------------------------------------ panel G
letter(8, 520, "G")
ftext(220, 527, r"$\mathit{C.\ albicans}$-reactive TCRs", fontsize=11.5)
ftext(140, 553, "all clonotypes", fontsize=11.5)
ftext(303, 553, "Th17 cluster", fontsize=11.5)
ftext(27, 637, "% of oral clonotypes", rotation=90, fontsize=10.5)
axG1 = add_ax(60, 568, 218, 707)
axG2 = add_ax(228, 568, 378, 707)
g_sets = [(axG1, g_all_h_mean, g_all_h_sem, g_all_cd_mean, g_all_cd_sem, g_all_h_pts, g_all_cd_pts),
          (axG2, g_th_h_mean, g_th_h_sem, g_th_cd_mean, g_th_cd_sem, g_th_h_pts, g_th_cd_pts)]
cx = np.array([0.5, 1.5, 2.5])
for ax, hm, hs, cm, cs, hp, cp in g_sets:
    prism(ax, 11)
    ax.set_xlim(0, 3)
    ax.set_ylim(0, 50)
    ax.set_yticks([0, 10, 20, 30, 40, 50])
    ax.set_xticks(cx)
    ax.set_xticklabels(g_cats, rotation=45, ha="right", rotation_mode="anchor", fontsize=9.5)
    ax.tick_params(axis="x", length=0, pad=1)
    for xs in (1, 2):
        ax.axvline(xs, color="#9a9a9a", ls=(0, (1.5, 1.5)), lw=0.7, zorder=0)
    ax.bar(cx - 0.18, hm, width=0.25, color="#d4d4d4", edgecolor="#a6a6a6", lw=0.8, zorder=1)
    ax.bar(cx + 0.18, cm, width=0.25, color="#df8080", edgecolor="#c05555", lw=0.8, zorder=1)
    dot_column(ax, hp, None, ["#7a7a7a"] * 3, ["#7a7a7a"] * 3, None, diam=6.2, s=22, lw=0,
               xs=list(cx - 0.18))
    dot_column(ax, cp, None, ["#b83a3a"] * 3, ["#b83a3a"] * 3, None, diam=6.2, s=22, lw=0,
               xs=list(cx + 0.18))
    ax.errorbar(cx - 0.18, hm, yerr=hs, fmt="none", ecolor="#404040", elinewidth=1.5,
                capsize=3, capthick=1.5, zorder=4)
    ax.errorbar(cx + 0.18, cm, yerr=cs, fmt="none", ecolor="#8b1a1a", elinewidth=1.5,
                capsize=3, capthick=1.5, zorder=4)
axG2.set_yticklabels([])
for ax, ys in ((axG1, (635, 623, 683)), (axG2, (624, 615, 672))):
    for k, ypx in enumerate(ys):
        bracket(ax, cx[k] - 0.2, cx[k] + 0.2, ypx, "NS", fs=10.5, color="#555")
g_handles = [Line2D([], [], ls="", marker="o", markersize=8, color="#7a7a7a"),
             Line2D([], [], ls="", marker="o", markersize=8, color="#b83a3a")]
fig.legend(g_handles, ["Healthy", "CD"], loc="upper left", bbox_to_anchor=(348 / W, 1 - 569 / H),
           frameon=False, fontsize=10.5, handletextpad=0.1, labelspacing=0.25,
           borderpad=0, borderaxespad=0)

# ------------------------------------------------------------------ panel H
def violin(ax, xc, ys, ws, quart, face, edge, medc):
    ys = np.asarray(ys)
    hw = np.asarray(ws)
    ax.fill_betweenx(ys, xc - hw, xc + hw, facecolor=face, edgecolor=edge, lw=0.8, zorder=2)
    for j, qv in enumerate(quart):
        w = np.interp(qv, ys, hw)
        if j == 1:
            ax.plot([xc - w, xc + w], [qv, qv], color=medc, lw=1.8, zorder=3)
        else:
            ax.plot([xc - w, xc + w], [qv, qv], color=medc, lw=0.9, ls=(0, (2, 1.5)), zorder=3)


letter(423, 520, "H")
ftext(530, 527, "Total oral", fontsize=11.5)
ftext(530, 543, "Th17 cells", fontsize=11.5)
ftext(632, 527, r"$\mathit{C.\ albi}$ oral", fontsize=11.5)
ftext(632, 543, "Th17 cells", fontsize=11.5)
ftext(440, 632, "Pathogenicity Score", rotation=90, fontsize=11)
axH1 = add_ax(487, 560, 572, 708)
axH2 = add_ax(583, 560, 680, 708)
axH1.set_xlim(0.38, 2.68)
axH2.set_xlim(0.19, 2.81)
for ax in (axH1, axH2):
    prism(ax, 11)
    ax.set_ylim(-0.2, 0.8)
    ax.set_yticks([-0.2, 0.0, 0.2, 0.4, 0.6, 0.8])
    ax.set_yticklabels(["-0.2", "0.0", "0.2", "0.4", "0.6", "0.8"])
    ax.set_xticks([1, 2])
    ax.set_xticklabels(["HC", "CD"], rotation=45, ha="right", rotation_mode="anchor",
                       fontsize=11.5)
axH2.set_yticklabels([])
violin(axH1, 1, h_tot_hc_y, h_tot_hc_w, h_tot_quart[0], "#d9d9d9", "#555", "#111")
violin(axH1, 2, h_tot_cd_y, h_tot_cd_w, h_tot_quart[1], "#dc7470", "#a83232", "#7a0c0c")
violin(axH2, 1, h_alb_hc_y, h_alb_hc_w, h_alb_quart[0], "#d9d9d9", "#555", "#111")
violin(axH2, 2, h_alb_cd_y, h_alb_cd_w, h_alb_quart[1], "#dc7470", "#a83232", "#7a0c0c")
bracket(axH1, 1.0, 2.05, 589, "1.4e-06", fs=10, color="#808080", lw=1.6)
bracket(axH2, 1.0, 2.08, 589, "1.5e-06", fs=10, color="#808080", lw=1.6)

# ------------------------------------------------------------------ panel I
letter(700, 520, "I")
axI1 = add_ax(741, 542, 903, 703)
axI2 = add_ax(910, 542, 1073, 703)
for ax in (axI1, axI2):
    ax.set_xlim(-5.5, 6.5)
    ax.set_ylim(-3.5, 3.9)
    ax.set_xticks([-3, 0, 3, 6])
    for s in ax.spines.values():
        s.set_color("#7a7a7a")
        s.set_linewidth(1.0)
    ax.tick_params(length=3, width=0.8, color="#7a7a7a", labelsize=9.5, pad=2)
axI1.set_yticks([-2, 0, 2])
axI2.set_yticks([])

clusters = [(umap_tcm, "#93c4dd"), (umap_tem, "#1b74b6"), (umap_th171, "#da8ca1"),
            (umap_th172, "#a5134b")]
for pts, col in clusters:
    ux, uy = zip(*pts)
    axI1.scatter(ux, uy, s=18, color=col, lw=0, zorder=2)
    axI2.scatter(ux, uy, s=10, color="#dcdad4", lw=0, zorder=1)
bx, by = zip(*umap_calb)
axI2.scatter(bx, by, s=34, color="black", lw=0, zorder=3)
for txt, x, y in (("Tem", 1.4, 3.45), ("Th17.1", 4.25, 2.15), ("Tcm", -2.6, -1.65),
                  ("Th17.2", 4.8, -3.05)):
    axI1.text(x, y, txt, fontsize=10.5, ha="center", va="center", zorder=5)
ftext(709, 678, "UMAP-2", rotation=90, fontsize=11)
farrow(713, 730, 713, 705)
farrow(713, 730, 741, 730)
ftext(747, 730, "UMAP-1", ha="left", fontsize=11.5)

fig.savefig("out.png", dpi=100, facecolor="white")
